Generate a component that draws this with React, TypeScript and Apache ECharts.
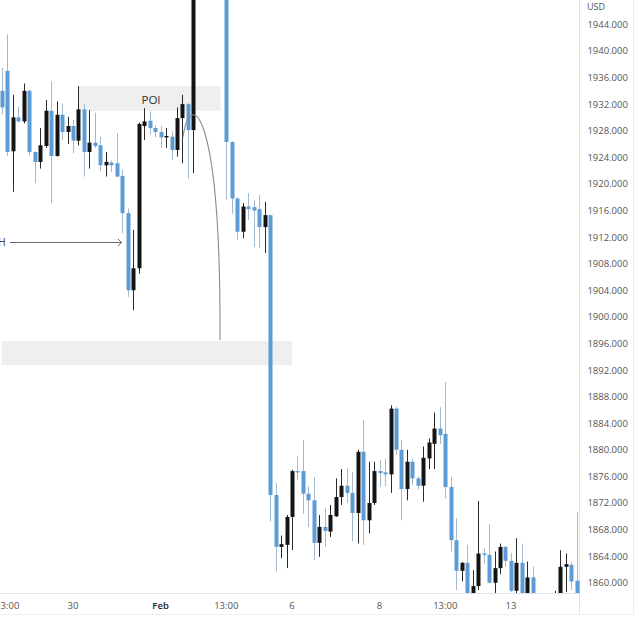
import React, { useEffect, useRef } from "react";
import * as echarts from "echarts";

// OHLC (index = candle slot)
const opens = [
  1934.0, 1937.0, 1924.9, 1930.0, 1929.4, 1934.0, 1924.8, 1923.3, 1925.7, 1931.0,
  1924.2, 1930.4, 1927.8, 1928.7, 1926.5, 1931.2, 1924.8, 1926.2, 1925.8, 1922.8,
  1923.2, 1923.1, 1921.2, 1915.6, 1904.0, 1907.3, 1928.7, 1929.5, 1928.4, 1927.8,
  1927.0, 1927.1, 1925.1, 1929.9, 1932.0, 1928.1, 1951.0, 1956.0, 1953.5, 1957.5,
  1955.0, 1952.0, 1926.3, 1917.8, 1912.8, 1916.6, 1916.5, 1916.2, 1913.5, 1915.3,
  1873.2, 1865.4, 1865.7, 1869.9, 1876.8, 1876.8, 1873.4, 1872.4, 1866.0, 1868.4,
  1867.7, 1870.0, 1872.9, 1874.6, 1873.5, 1870.5, 1879.7, 1869.4, 1872.0, 1876.8,
  1876.6, 1876.3, 1886.2, 1880.0, 1874.1, 1878.2, 1875.7, 1874.6, 1878.7, 1880.9,
  1883.2, 1882.4, 1874.4, 1866.4, 1861.8, 1863.0, 1858.3, 1859.5, 1864.4, 1864.2,
  1860.0, 1862.2, 1865.4, 1863.3, 1858.8, 1863.0, 1857.8, 1860.8, 1857.5, 1855.0,
  1853.0, 1855.5, 1857.0, 1862.4, 1862.7, 1860.3,
];
const closes = [
  1931.5, 1924.8, 1930.0, 1929.4, 1934.0, 1924.8, 1923.3, 1925.8, 1931.0, 1924.2,
  1930.4, 1927.8, 1928.7, 1926.5, 1931.2, 1924.8, 1926.2, 1925.7, 1922.8, 1923.3,
  1922.8, 1921.1, 1915.6, 1904.0, 1907.3, 1929.0, 1929.4, 1928.4, 1927.8, 1927.0,
  1927.2, 1925.1, 1929.9, 1932.0, 1928.1, 1951.0, 1956.0, 1953.5, 1957.5, 1955.0,
  1952.0, 1926.3, 1917.8, 1912.8, 1916.6, 1916.2, 1916.0, 1913.5, 1915.3, 1873.2,
  1865.4, 1865.8, 1869.9, 1876.8, 1876.6, 1873.4, 1872.4, 1866.0, 1868.4, 1867.8,
  1870.2, 1872.9, 1874.6, 1873.5, 1870.5, 1879.7, 1869.4, 1872.0, 1876.8, 1876.5,
  1876.3, 1886.2, 1880.0, 1874.1, 1878.2, 1875.7, 1874.6, 1878.8, 1881.1, 1883.2,
  1882.2, 1874.4, 1866.4, 1861.8, 1863.0, 1857.8, 1859.5, 1864.4, 1864.3, 1860.0,
  1862.2, 1865.4, 1863.3, 1858.8, 1863.0, 1857.8, 1860.8, 1857.5, 1855.0, 1853.0,
  1855.5, 1857.0, 1862.4, 1862.8, 1860.2, 1857.8,
];
const lows = [
  1930.5, 1924.2, 1918.8, 1929.2, 1929.1, 1924.3, 1920.1, 1922.3, 1925.4, 1917.1,
  1924.1, 1926.6, 1926.0, 1924.6, 1925.8, 1921.1, 1922.3, 1925.4, 1921.9, 1921.1,
  1921.8, 1921.0, 1912.6, 1903.0, 1901.0, 1906.5, 1926.6, 1927.4, 1927.0, 1925.4,
  1925.4, 1923.6, 1924.1, 1923.1, 1920.8, 1921.6, 1949.5, 1951.0, 1952.0, 1952.5,
  1950.0, 1917.6, 1915.5, 1911.6, 1911.8, 1914.6, 1910.5, 1910.3, 1909.6, 1869.2,
  1861.7, 1863.7, 1862.2, 1864.9, 1875.5, 1870.4, 1868.4, 1863.4, 1863.9, 1865.4,
  1866.9, 1869.9, 1871.7, 1872.0, 1866.2, 1865.9, 1865.7, 1867.4, 1871.7, 1874.5,
  1874.5, 1873.5, 1879.2, 1869.4, 1872.4, 1874.7, 1874.0, 1872.2, 1877.1, 1877.1,
  1880.9, 1872.7, 1864.7, 1858.9, 1860.2, 1857.0, 1857.8, 1858.9, 1862.9, 1859.9,
  1858.0, 1861.3, 1862.4, 1858.6, 1858.2, 1857.0, 1857.0, 1856.5, 1853.5, 1851.0,
  1852.0, 1854.5, 1856.5, 1858.6, 1858.9, 1857.0,
];
const highs = [
  1937.5, 1942.5, 1933.4, 1931.6, 1935.1, 1934.2, 1924.9, 1928.4, 1932.6, 1935.4,
  1932.4, 1932.1, 1930.1, 1929.6, 1934.7, 1932.1, 1931.1, 1930.7, 1927.1, 1924.8,
  1923.5, 1927.6, 1922.1, 1916.3, 1913.1, 1929.2, 1931.4, 1930.9, 1928.8, 1928.7,
  1928.4, 1927.9, 1931.5, 1933.4, 1932.2, 1953.0, 1958.0, 1959.0, 1960.0, 1959.5,
  1957.0, 1953.0, 1926.4, 1918.0, 1917.1, 1918.6, 1917.5, 1918.3, 1917.3, 1915.4,
  1875.0, 1867.1, 1870.2, 1877.0, 1879.0, 1881.5, 1874.5, 1875.9, 1870.2, 1871.2,
  1871.7, 1875.7, 1877.1, 1877.2, 1876.7, 1880.0, 1884.5, 1878.2, 1878.2, 1878.5,
  1878.7, 1886.7, 1886.5, 1881.5, 1880.0, 1878.7, 1876.0, 1880.5, 1881.7, 1885.6,
  1886.4, 1890.2, 1875.9, 1869.7, 1863.1, 1865.7, 1861.9, 1872.3, 1865.2, 1868.8,
  1864.7, 1865.9, 1865.5, 1864.5, 1866.7, 1865.9, 1863.2, 1862.4, 1858.0, 1856.5,
  1857.0, 1858.8, 1864.9, 1864.4, 1863.2, 1870.7,
];

// x-axis tick labels at candle slots
const tickLabels = [
  { index: 1, label: "13:00" },
  { index: 13, label: "30" },
  { index: 29, label: "Feb" },
  { index: 41, label: "13:00" },
  { index: 53, label: "6" },
  { index: 69, label: "8" },
  { index: 81, label: "13:00" },
  { index: 93, label: "13" },
];
const yTickValues = [
  1860, 1864, 1868, 1872, 1876, 1880, 1884, 1888, 1892, 1896, 1900,
  1904, 1908, 1912, 1916, 1920, 1924, 1928, 1932, 1936, 1940, 1944,
];
const yMin = 1858.46;
const yMax = 1947.66;
// zones: [startSlot, endSlot, lowPrice, highPrice]
const poiZone = [14, 40, 1930.96, 1934.72];
const lowerZone = [0, 53, 1892.75, 1896.36];

const FONT = "'Open Sans', 'Noto Sans', sans-serif";
const BLUE = "#5b9bd6";
const BLUE_WICK = "#a3b9ce";
const BLACK = "#141414";
const BLACK_WICK = "#2a2a2a";

export default function App() {
  const ref = useRef<HTMLDivElement>(null);
  useEffect(() => {
    const chart = echarts.init(ref.current as HTMLDivElement, null, { renderer: "svg" });
    const categories = opens.map((_, i) => {
      const t = tickLabels.find((d) => d.index === i);
      return t ? t.label : "";
    });
    const data = opens.map((o, i) => [i, o, closes[i], lows[i], highs[i]]);

    chart.setOption({
      animation: false,
      backgroundColor: "#ffffff",
      grid: {
        left: -0.91,
        right: 60.6,
        top: 0,
        bottom: 47,
        containLabel: false,
        outerBoundsMode: "none",
      },
      xAxis: {
        type: "category",
        data: categories,
        boundaryGap: true,
        axisLine: { show: true, lineStyle: { color: "#e2e2e2", width: 1 } },
        axisTick: { show: false },
        splitLine: { show: false },
        axisLabel: {
          interval: (_idx: number, v: string) => v !== "",
          hideOverlap: false,
          margin: 7,
          fontSize: 9.5,
          fontFamily: FONT,
          color: "#555",
          formatter: (v: string) => (v === "Feb" ? "{b|Feb}" : v),
          rich: { b: { fontSize: 9.5, fontFamily: FONT, color: "#222", fontWeight: 600 } },
        },
      },
      yAxis: {
        type: "value",
        position: "right",
        min: yMin,
        max: yMax,
        scale: true,
        axisLine: { show: true, lineStyle: { color: "#e2e2e2", width: 1 } },
        axisTick: { show: false },
        splitLine: { show: false },
        axisLabel: {
          customValues: yTickValues,
          margin: 8,
          fontSize: 9.5,
          fontFamily: FONT,
          color: "#555",
          formatter: (v: number) => v.toFixed(3),
        },
      },
      series: [
        {
          type: "custom",
          name: "XAUUSD",
          clip: true,
          z: 3,
          dimensions: ["slot", "open", "close", "low", "high"],
          encode: { x: 0, y: [1, 2, 3, 4] },
          data,
          renderItem: (_params: any, api: any) => {
            const idx = api.value(0);
            const o = api.value(1);
            const c = api.value(2);
            const l = api.value(3);
            const h = api.value(4);
            const up = c >= o;
            const pH = api.coord([idx, h]);
            const pL = api.coord([idx, l]);
            const pO = api.coord([idx, o]);
            const pC = api.coord([idx, c]);
            const bw = 4;
            const cx = pO[0];
            const wx = Math.round(cx) + 0.5;
            const top = Math.min(pO[1], pC[1]);
            const bh = Math.max(Math.abs(pO[1] - pC[1]), 1.4);
            return {
              type: "group",
              children: [
                {
                  type: "line",
                  shape: { x1: wx, y1: pH[1], x2: wx, y2: pL[1] },
                  style: { stroke: up ? BLACK_WICK : BLUE_WICK, lineWidth: 1 },
                },
                {
                  type: "rect",
                  shape: { x: Math.round(cx - bw / 2) + 0.5, y: top, width: bw, height: bh },
                  style: { fill: up ? BLACK : BLUE },
                },
              ],
            };
          },
          markArea: {
            silent: true,
            z: 1,
            itemStyle: { color: "#efefef" },
            data: [
              [
                { xAxis: poiZone[0], yAxis: poiZone[2] },
                { xAxis: poiZone[1], yAxis: poiZone[3] },
              ],
              [
                { xAxis: lowerZone[0], yAxis: lowerZone[2] },
                { xAxis: lowerZone[1], yAxis: lowerZone[3] },
              ],
            ],
          },
        },
      ],
      graphic: [
        {
          type: "text",
          x: 587,
          y: 2,
          style: { text: "USD", fontSize: 9, fontFamily: FONT, fill: "#555" },
        },
        {
          type: "text",
          x: 151,
          y: 99,
          z: 10,
          style: {
            text: "POI",
            fontSize: 11.5,
            fontFamily: FONT,
            fill: "#333",
            align: "center",
            verticalAlign: "middle",
            textAlign: "center",
            textVerticalAlign: "middle",
          },
        },
        {
          type: "text",
          x: -2,
          y: 242,
          style: {
            text: "H",
            fontSize: 10.5,
            fontFamily: FONT,
            fill: "#444",
            verticalAlign: "middle",
            textVerticalAlign: "middle",
          },
        },
        {
          type: "line",
          shape: { x1: 10, y1: 242.5, x2: 121.5, y2: 242.5 },
          style: { stroke: "#6a6a6a", lineWidth: 1 },
        },
        {
          type: "polyline",
          shape: { points: [[118, 239], [121.5, 242.5], [118, 246]] },
          style: { stroke: "#6a6a6a", lineWidth: 1, fill: null },
        },
        {
          type: "bezierCurve",
          z: 10,
          shape: { x1: 183, y1: 137, cpx1: 190, cpy1: 88, cpx2: 221, cpy2: 105, x2: 220, y2: 340 },
          style: { stroke: "#8a8a8a", lineWidth: 1.1, fill: null },
        },
        {
          type: "line",
          shape: { x1: 579.5, y1: 593, x2: 579.5, y2: 614 },
          style: { stroke: "#e2e2e2", lineWidth: 1 },
        },
        {
          type: "line",
          shape: { x1: 633.5, y1: 0, x2: 633.5, y2: 614 },
          style: { stroke: "#ececec", lineWidth: 1 },
        },
        {
          type: "line",
          shape: { x1: 0, y1: 614.5, x2: 634, y2: 614.5 },
          style: { stroke: "#f0f0f0", lineWidth: 1 },
        },
      ],
    });
    return () => chart.dispose();
  }, []);
  return (
    <div
      ref={ref}
      style={{ position: "fixed", left: 0, top: 0, width: 640, height: 640, background: "#fff" }}
    />
  );
}
